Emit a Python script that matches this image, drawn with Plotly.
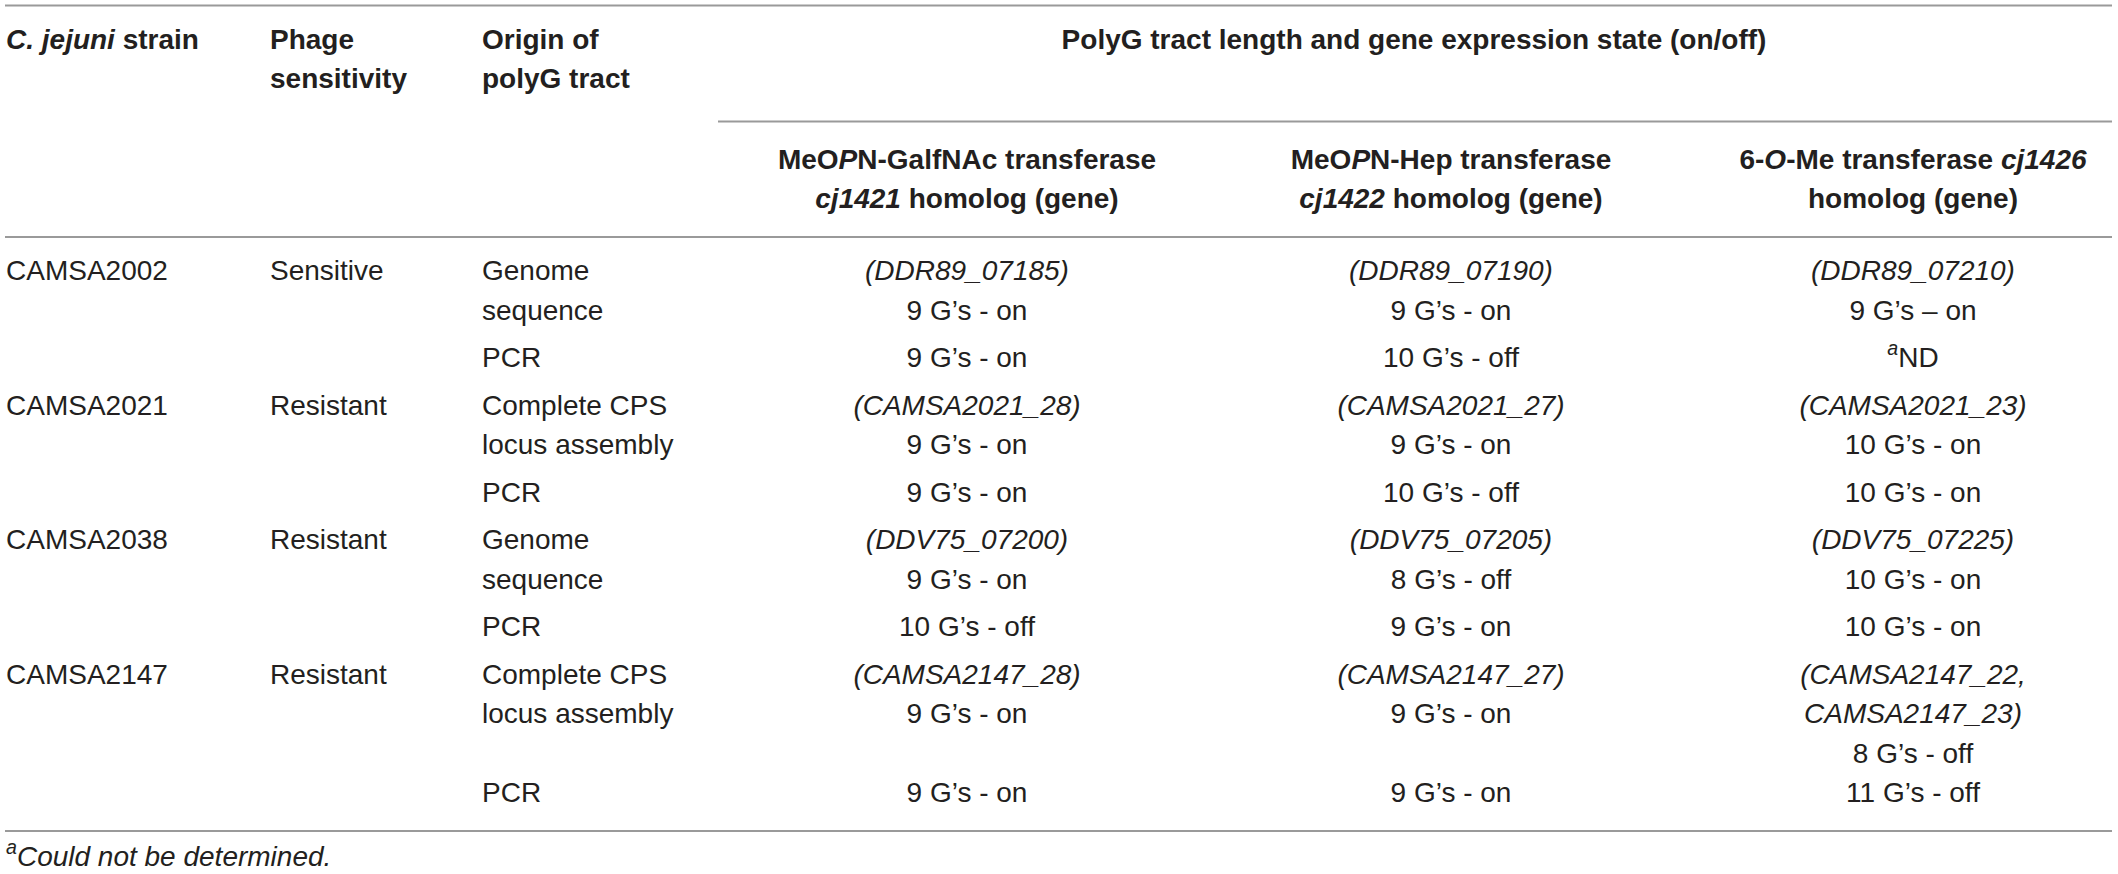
import plotly.graph_objects as go

# Table content, one list per column
strains = ["CAMSA2002", "CAMSA2021", "CAMSA2038", "CAMSA2147"]
sensitivity = ["Sensitive", "Resistant", "Resistant", "Resistant"]
origin_genomic = ["Genome\nsequence", "Complete CPS\nlocus assembly",
                  "Genome\nsequence", "Complete CPS\nlocus assembly"]
origin_pcr = "PCR"

cj1421_gene = ["DDR89_07185", "CAMSA2021_28", "DDV75_07200", "CAMSA2147_28"]
cj1421_genome = ["9 G’s - on", "9 G’s - on", "9 G’s - on", "9 G’s - on"]
cj1421_pcr = ["9 G’s - on", "9 G’s - on", "10 G’s - off", "9 G’s - on"]

cj1422_gene = ["DDR89_07190", "CAMSA2021_27", "DDV75_07205", "CAMSA2147_27"]
cj1422_genome = ["9 G’s - on", "9 G’s - on", "8 G’s - off", "9 G’s - on"]
cj1422_pcr = ["10 G’s - off", "10 G’s - off", "9 G’s - on", "9 G’s - on"]

cj1426_gene = ["DDR89_07210", "CAMSA2021_23", "DDV75_07225", "CAMSA2147_22,\nCAMSA2147_23"]
cj1426_genome = ["9 G’s – on", "10 G’s - on", "10 G’s - on", "8 G’s - off"]
cj1426_pcr = ["<sup><i>a</i></sup>ND", "10 G’s - on", "10 G’s - on", "11 G’s - off"]

head_left = ["<i>C. jejuni</i> strain", "Phage\nsensitivity", "Origin of\npolyG tract"]
head_span = "PolyG tract length and gene expression state (on/off)"
head_genes = ["MeO<i>P</i>N-GalfNAc transferase\n<i>cj1421</i> homolog (gene)",
              "MeO<i>P</i>N-Hep transferase\n<i>cj1422</i> homolog (gene)",
              "6-<i>O</i>-Me transferase <i>cj1426</i>\nhomolog (gene)"]
footnote = "<sup><i>a</i></sup><i>Could not be determined.</i>"

# Layout (pixel units of the 2118x874 page)
W, H = 2118, 874
LEFT, RIGHT = 5, 2112
LEFT_X = [6, 270, 482]          # left aligned columns
CENTER_X = [967, 1451, 1913]    # centred gene columns
SPAN_LEFT = 718
HEAD_Y, HEAD_LINE = 42, 39
SPAN_RULE_Y = 121.5
GENE_HEAD_Y = 162
HEAD_RULE_Y = 237
BODY_Y = 273
LINE, PAD = 39.5, 8
FONT = "Liberation Sans, Arial, Helvetica, sans-serif"
TEXT_COLOR = "#231f20"
RULE_COLOR = "#9a9a9a"

left = {"x": [], "y": [], "t": []}
center = {"x": [], "y": [], "t": []}


def put(store, x, y, cell, bold=False):
    for k, part in enumerate(cell.split("\n")):
        store["x"].append(x)
        store["y"].append(y + k * (HEAD_LINE if bold else LINE))
        store["t"].append(f"<b>{part}</b>" if bold else part)


def gene_lines(name):
    return [f"<i>{p}</i>" for p in f"({name})".split("\n")]


# header
for x, cell in zip(LEFT_X, head_left):
    put(left, x, HEAD_Y, cell, bold=True)
put(center, (1048 + 1780) / 2, HEAD_Y, head_span, bold=True)
for x, cell in zip(CENTER_X, head_genes):
    put(center, x, GENE_HEAD_Y, cell, bold=True)

# body
genes = [(cj1421_gene, cj1421_genome, cj1421_pcr),
         (cj1422_gene, cj1422_genome, cj1422_pcr),
         (cj1426_gene, cj1426_genome, cj1426_pcr)]
y = BODY_Y
last_y = y
for i in range(len(strains)):
    cells = [gene_lines(g[0][i]) + [g[1][i]] for g in genes]
    put(left, LEFT_X[0], y, strains[i])
    put(left, LEFT_X[1], y, sensitivity[i])
    put(left, LEFT_X[2], y, origin_genomic[i])
    for x, c in zip(CENTER_X, cells):
        put(center, x, y, "\n".join(c))
    n = max([len(origin_genomic[i].split("\n"))] + [len(c) for c in cells])
    # the source lets a three-line cell run into its padding
    y += n * LINE + (PAD if n < 3 else 0)
    put(left, LEFT_X[2], y, origin_pcr)
    for x, g in zip(CENTER_X, genes):
        put(center, x, y, g[2][i])
    last_y = y
    y += LINE + PAD

bottom_rule = last_y + 36
put(left, LEFT_X[0], bottom_rule + 28, footnote)

fig = go.Figure()
fig.add_trace(go.Scatter(x=left["x"], y=left["y"], text=left["t"], mode="text",
                         textposition="middle right", hoverinfo="skip",
                         textfont=dict(family=FONT, size=28, color=TEXT_COLOR)))
fig.add_trace(go.Scatter(x=center["x"], y=center["y"], text=center["t"], mode="text",
                         textposition="middle center", hoverinfo="skip",
                         textfont=dict(family=FONT, size=28, color=TEXT_COLOR)))

rules = [(LEFT, 5.5), (SPAN_LEFT, SPAN_RULE_Y), (LEFT, HEAD_RULE_Y), (LEFT, bottom_rule)]
for x0, yy in rules:
    fig.add_shape(type="line", x0=x0, x1=RIGHT, y0=yy, y1=yy, xref="x", yref="y",
                  line=dict(color=RULE_COLOR, width=2))

fig.update_xaxes(range=[0, W], visible=False, fixedrange=True)
fig.update_yaxes(range=[H, 0], visible=False, fixedrange=True)
fig.update_layout(width=W, height=H, margin=dict(l=0, r=0, t=0, b=0),
                  showlegend=False, plot_bgcolor="white", paper_bgcolor="white")

fig.write_html("out.html", config={"displayModeBar": False},
               post_script="document.body.style.margin='0';")
